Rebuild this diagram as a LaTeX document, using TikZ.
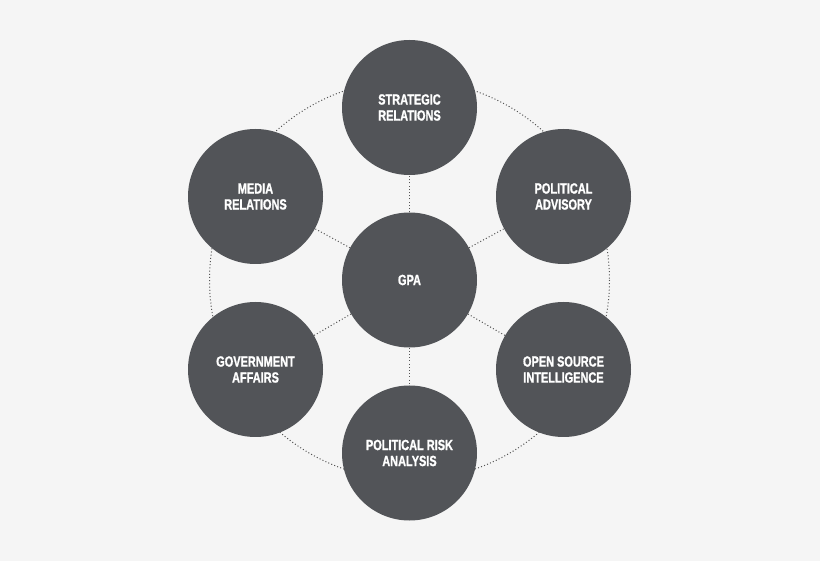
\documentclass[tikz,border=0pt]{standalone}
\usepackage{fontspec}
\setmainfont{Liberation Sans}[FakeStretch=0.74,BoldFeatures={FakeBold=1.2}]
\definecolor{bgc}{HTML}{F5F5F5}
\definecolor{circ}{HTML}{525458}
\definecolor{dotc}{HTML}{555555}
\begin{document}
\begin{tikzpicture}[x=1pt,y=-1pt,
  bub/.style={circle,fill=circ,minimum size=135pt,inner sep=0pt,text=white,align=center,
    font=\fontsize{14.8}{16}\selectfont\bfseries},
  dotline/.style={draw=dotc,line width=1pt,dash pattern=on 1pt off 2.2pt}]
\fill[bgc] (0,0) rectangle (820,561);
\useasboundingbox (0,0) rectangle (820,561);
\coordinate (c) at (409.5,280);
\draw[dotline] (c) circle[radius=200];
\node[bub] (gpa) at (c) {GPA};
\node[bub] (sr) at (409.5,107.5) {STRATEGIC\\RELATIONS};
\node[bub] (mr) at (255.5,196.5) {MEDIA\\RELATIONS};
\node[bub] (pa) at (563.5,196.5) {POLITICAL\\ADVISORY};
\node[bub] (ga) at (255.5,369.5) {GOVERNMENT\\AFFAIRS};
\node[bub] (os) at (563.5,369.5) {OPEN SOURCE\\INTELLIGENCE};
\node[bub] (pr) at (409.5,453) {POLITICAL RISK\\ANALYSIS};
\foreach \n in {sr,mr,pa,ga,os,pr}{\draw[dotline] (gpa) -- (\n);}
\end{tikzpicture}
\end{document}
